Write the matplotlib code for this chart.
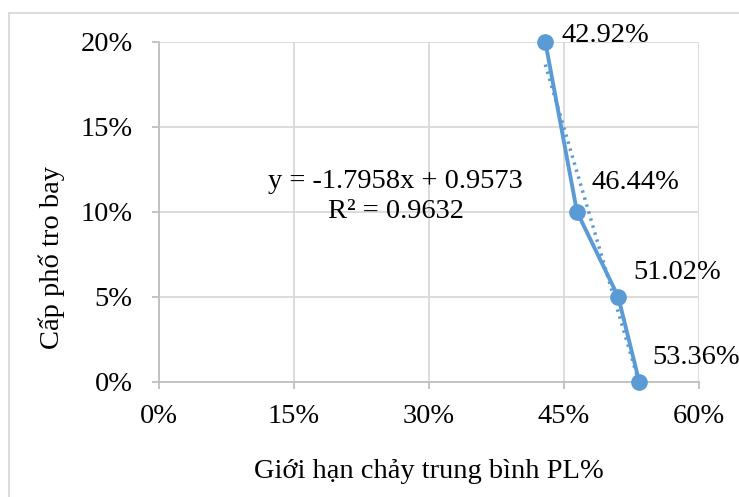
import numpy as np
import matplotlib.pyplot as plt
from matplotlib.patches import Rectangle
from matplotlib.ticker import PercentFormatter

# Liquid limit (x) vs fly-ash grading (y)
pl_mean = [0.4292, 0.4644, 0.5102, 0.5336]
fly_ash = [0.20, 0.10, 0.05, 0.00]
point_labels = ["42.92%", "46.44%", "51.02%", "53.36%"]
label_offsets = [(16, 6), (15, 29), (15, 24), (13, 24)]  # pixels right / up

# linear trendline
slope, intercept, r2 = -1.7958, 0.9573, 0.9632

x_ticks = [0.0, 0.15, 0.30, 0.45, 0.60]
y_ticks = [0.0, 0.05, 0.10, 0.15, 0.20]

blue = "#5B9BD5"
grid_c = "#D9D9D9"
axis_c = "#BFBFBF"

plt.rcParams["font.family"] = ["Liberation Serif", "DejaVu Serif"]
fs = 20.5

fig = plt.figure(figsize=(7.39, 4.97), dpi=100)
fig.patches.append(Rectangle((9 / 739, -0.1), 1.2, 1.1 - 13 / 497,
                             transform=fig.transFigure, fill=False,
                             edgecolor=grid_c, linewidth=1.3))

ax = fig.add_axes([159 / 739, 1 - 381.7 / 497, 540 / 739, 340 / 497])
ax.set_xlim(0, 0.60)
ax.set_ylim(0, 0.20)
ax.set_xticks(x_ticks)
ax.set_yticks(y_ticks)
ax.xaxis.set_major_formatter(PercentFormatter(1.0, decimals=0))
ax.yaxis.set_major_formatter(PercentFormatter(1.0, decimals=0))
ax.grid(True, color=grid_c, linewidth=1.3)
ax.set_axisbelow(True)
for side in ["top", "right"]:
    ax.spines[side].set_visible(False)
for side in ["left", "bottom"]:
    ax.spines[side].set_color(axis_c)
    ax.spines[side].set_linewidth(1.3)
ax.tick_params(axis="both", direction="out", length=5, width=1.3,
               color=axis_c, labelsize=fs)
ax.tick_params(axis="y", pad=14)
ax.tick_params(axis="x", pad=11)

# trendline over the data range
xt = np.array([min(pl_mean), max(pl_mean)])
ax.plot(xt, slope * xt + intercept, color=blue, linewidth=2.5,
        linestyle=(0, (0.7, 1.4)), clip_on=False, zorder=3)

ax.plot(pl_mean, fly_ash, color=blue, linewidth=2.8, marker="o",
        markersize=11, clip_on=False, zorder=4)

for x, y, txt, (dx, dy) in zip(pl_mean, fly_ash, point_labels, label_offsets):
    ax.annotate(txt, (x, y), xytext=(dx * 0.72, dy * 0.72),
                textcoords="offset points", ha="left", va="center",
                fontsize=fs, annotation_clip=False)

ax.text(0.263, 0.109, f"y = {slope:.4f}x + {intercept:.4f}\nR² = {r2:.4f}",
        ha="center", va="center", fontsize=fs, linespacing=1.3)

ax.set_xlabel("Giới hạn chảy trung bình PL%", fontsize=fs, labelpad=22)
ax.set_ylabel("Cấp phố tro bay", fontsize=fs, labelpad=11)
ax.yaxis.label.set_y(0.364)

fig.savefig("out.png", dpi=100)
